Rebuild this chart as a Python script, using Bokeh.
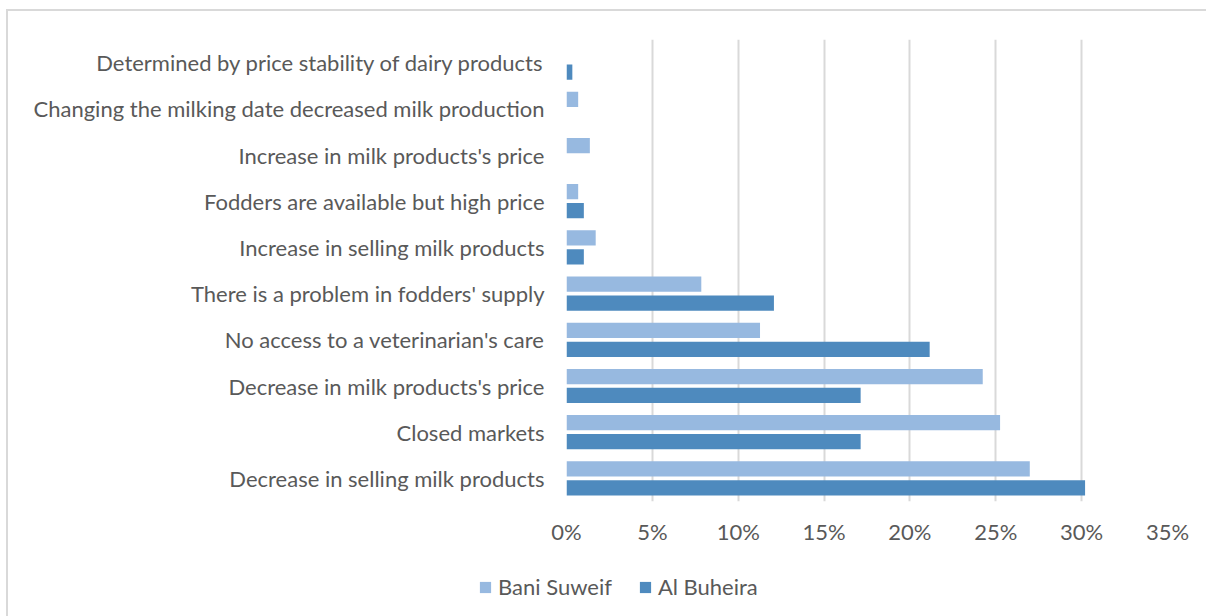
from bokeh.plotting import figure
from bokeh.layouts import column
from bokeh.models import Legend, LegendItem, NumeralTickFormatter, FixedTicker, ColumnDataSource
from bokeh.transform import dodge
from bokeh.embed import file_html
from bokeh.resources import INLINE

# Categories as read top to bottom in the reference
categories = [
    "Determined by price stability of dairy products",
    "Changing the milking date decreased milk production",
    "Increase in milk products's price",
    "Fodders are available but high price",
    "Increase in selling milk products",
    "There is a problem in fodders' supply",
    "No access to a veterinarian's care",
    "Decrease in milk products's price",
    "Closed markets",
    "Decrease in selling milk products",
]
bani_suweif = [0.0, 0.0068, 0.0136, 0.0068, 0.0170, 0.0785, 0.1127, 0.2424, 0.2525, 0.2698]
al_buheira = [0.0034, 0.0, 0.0, 0.0101, 0.0101, 0.1208, 0.2115, 0.1713, 0.1713, 0.3020]
series_names = ["Bani Suweif", "Al Buheira"]
series_colors = ["#97B9E0", "#4E8ABE"]
x_ticks = [0, 0.05, 0.10, 0.15, 0.20, 0.25, 0.30, 0.35]

FONT = "Lato"
TXT = "#595959"
FS = "22px"

src = ColumnDataSource(dict(cat=categories, bani=bani_suweif, al=al_buheira))

p = figure(
    frame_width=601, frame_height=462,
    y_range=list(reversed(categories)),
    x_range=(0, 0.35),
    output_backend="svg", toolbar_location=None,
)
p.min_border_left = 558
p.min_border_right = 39
p.min_border_top = 28
p.min_border_bottom = 59
p.outline_line_color = None
p.background_fill_color = "white"
p.border_fill_color = "white"

p.hbar(y=dodge("cat", 0.205, range=p.y_range), right="bani", left=0, height=0.33,
       source=src, fill_color=series_colors[0], line_color=None)
p.hbar(y=dodge("cat", -0.205, range=p.y_range), right="al", left=0, height=0.33,
       source=src, fill_color=series_colors[1], line_color=None)

p.xaxis.ticker = FixedTicker(ticks=x_ticks)
p.xaxis.formatter = NumeralTickFormatter(format="0%")
for ax in (p.xaxis, p.yaxis):
    ax.axis_line_color = None
    ax.major_tick_line_color = None
    ax.minor_tick_line_color = None
    ax.major_label_text_font = FONT
    ax.major_label_text_font_size = FS
    ax.major_label_text_color = TXT
p.yaxis.major_label_standoff = 16
p.xaxis.major_label_standoff = 10

p.xgrid.ticker = FixedTicker(ticks=x_ticks)
p.xgrid.grid_line_color = "#D9D9D9"
p.xgrid.grid_line_width = 2
p.ygrid.grid_line_color = None

# legend strip below the chart (swatch renderers sit outside the visible range)
q = figure(width=1198, height=56, x_range=(0, 1), y_range=(0, 1),
           x_axis_type=None, y_axis_type=None,
           output_backend="svg", toolbar_location=None)
q.min_border_left = 0
q.min_border_right = 0
q.min_border_top = 0
q.min_border_bottom = 0
q.outline_line_color = None
q.grid.grid_line_color = None
if hasattr(q, "frame_align"):
    q.frame_align = False
swatch = ColumnDataSource(dict(y=[-10], right=[0]))
lr1 = q.hbar(y="y", right="right", left=0, height=0.3, source=swatch,
             fill_color=series_colors[0], line_color=None)
lr2 = q.hbar(y="y", right="right", left=0, height=0.3, source=swatch,
             fill_color=series_colors[1], line_color=None)

legend = Legend(
    items=[LegendItem(label=series_names[0], renderers=[lr1]),
           LegendItem(label=series_names[1], renderers=[lr2])],
    orientation="horizontal",
    location=(470, 16),
    label_text_font=FONT,
    label_text_font_size=FS,
    label_text_color=TXT,
    glyph_width=14, glyph_height=14,
    label_standoff=6,
    spacing=26,
    padding=0,
    margin=0,
    border_line_color=None,
    background_fill_alpha=0,
)
q.add_layout(legend)

layout = column(p, q, spacing=0)
layout.styles = {"margin-left": "6px", "margin-top": "9px",
                 "border-top": "2px solid #D9D9D9", "border-left": "2px solid #D9D9D9"}

open("out.html", "w").write(file_html(layout, INLINE))
